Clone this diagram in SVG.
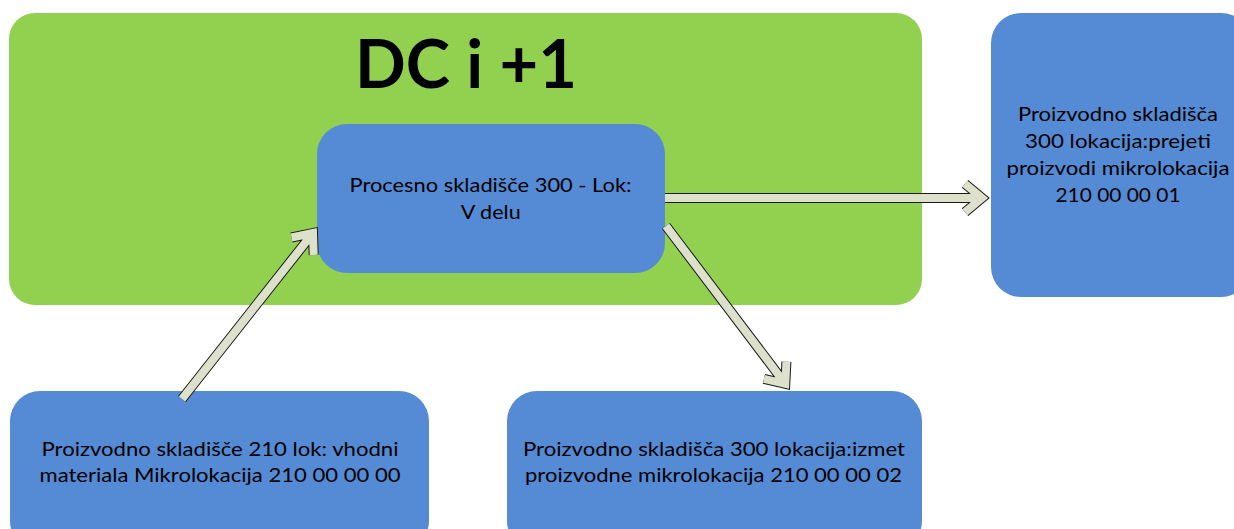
<svg xmlns="http://www.w3.org/2000/svg" width="1234" height="529" viewBox="0 0 1234 529">
  <style>
    .box { fill: #558BD5; }
    .lbl { font-family: "Lato", "Liberation Sans", sans-serif; font-size: 20px; fill: #000; text-anchor: middle; }
    .title { font-family: "Lato", "Liberation Sans", sans-serif; font-size: 67px; font-weight: bold; fill: #000; text-anchor: middle; }
    .aout { fill: none; stroke: #1a1a1a; stroke-width: 10; stroke-linejoin: miter; stroke-linecap: butt; }
    .ain { fill: none; stroke: #DDE0CA; stroke-width: 8; stroke-linejoin: miter; stroke-linecap: butt; }
  </style>
  <rect width="1234" height="529" fill="#ffffff"/>
  <g id="dc-group">
    <rect x="9" y="13" width="913" height="292" rx="26" ry="26" fill="#92D050"/>
    <text class="title" x="466" y="88" textLength="222" lengthAdjust="spacingAndGlyphs">DC i +1</text>
  </g>
  <g id="node-process">
    <rect class="box" x="317" y="124" width="348" height="149" rx="30" ry="30"/>
    <text class="lbl" x="490.5" y="192" textLength="282" lengthAdjust="spacingAndGlyphs">Procesno skladišče 300 - Lok:</text>
    <text class="lbl" x="490.7" y="219" textLength="60" lengthAdjust="spacingAndGlyphs">V delu</text>
  </g>
  <g id="node-received">
    <rect class="box" x="991" y="13" width="260" height="284" rx="30" ry="30"/>
    <text class="lbl" x="1118" y="121" textLength="200" lengthAdjust="spacingAndGlyphs">Proizvodno skladišča</text>
    <text class="lbl" x="1118" y="148" textLength="186" lengthAdjust="spacingAndGlyphs">300 lokacija:prejeti</text>
    <text class="lbl" x="1118" y="175" textLength="223" lengthAdjust="spacingAndGlyphs">proizvodi mikrolokacija</text>
    <text class="lbl" x="1118" y="202" textLength="125" lengthAdjust="spacingAndGlyphs">210 00 00 01</text>
  </g>
  <g id="node-input">
    <rect class="box" x="10" y="391" width="419" height="160" rx="30" ry="30"/>
    <text class="lbl" x="220" y="456" textLength="357" lengthAdjust="spacingAndGlyphs">Proizvodno skladišče 210 lok: vhodni</text>
    <text class="lbl" x="220" y="482" textLength="361" lengthAdjust="spacingAndGlyphs">materiala Mikrolokacija 210 00 00 00</text>
  </g>
  <g id="node-scrap">
    <rect class="box" x="507" y="391" width="415" height="160" rx="30" ry="30"/>
    <text class="lbl" x="714" y="456" textLength="382" lengthAdjust="spacingAndGlyphs">Proizvodno skladišča 300 lokacija:izmet</text>
    <text class="lbl" x="713.5" y="482" textLength="377" lengthAdjust="spacingAndGlyphs">proizvodne mikrolokacija 210 00 00 02</text>
  </g>
  <g id="connectors">
    <g id="arrow-input-process">
      <path class="aout" d="M182,399 L313,233 M291.5,237.5 L313,233 L313.7,255"/>
      <path class="ain" d="M182,399 L313,233 M291.5,237.5 L313,233 L313.7,255"/>
    </g>
    <g id="arrow-process-received">
      <path class="aout" d="M665,198 L982,198 M965,183.9 L982,198 L965,212.1"/>
      <path class="ain" d="M665,198 L982,198 M965,183.9 L982,198 L965,212.1"/>
    </g>
    <g id="arrow-process-scrap">
      <path class="aout" d="M666,226 L785.3,383.8 M786.4,361.8 L785.3,383.8 L763.9,378.9"/>
      <path class="ain" d="M666,226 L785.3,383.8 M786.4,361.8 L785.3,383.8 L763.9,378.9"/>
    </g>
  </g>
</svg>
